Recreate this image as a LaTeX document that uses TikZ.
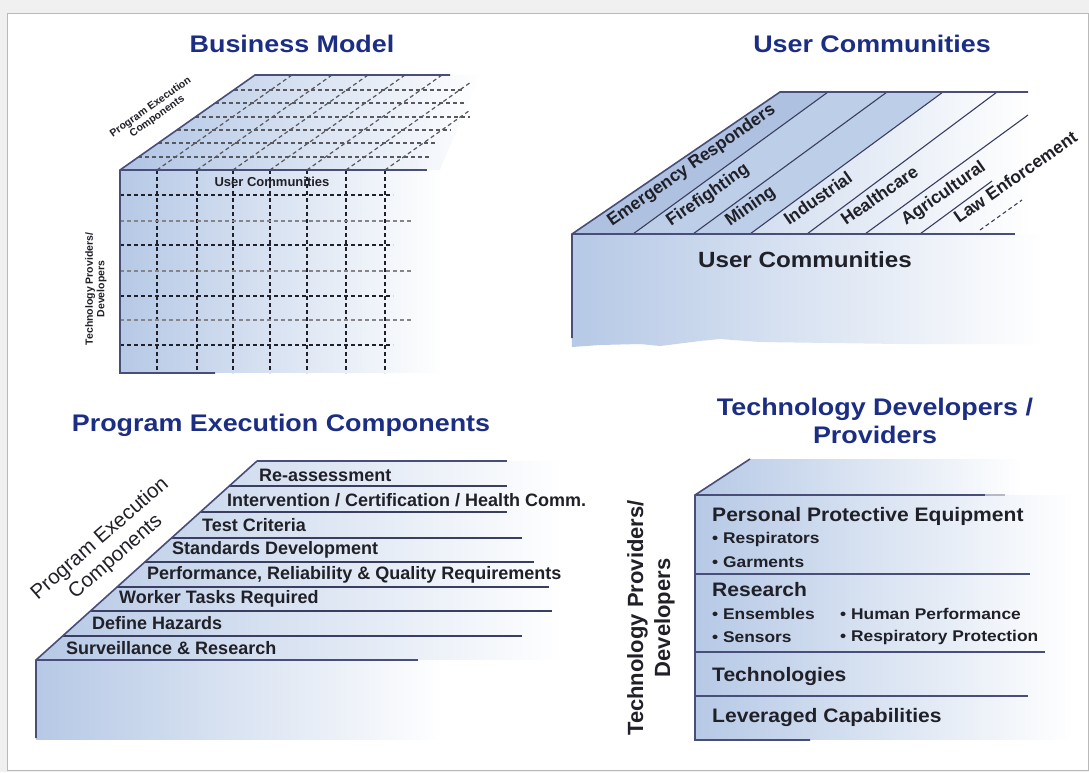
\documentclass[tikz,border=0pt]{standalone}
\usepackage{fontspec}
\setmainfont{Liberation Sans}
\usepackage{xcolor}
\usetikzlibrary{shadings, fadings}
\definecolor{navy}{RGB}{28,46,132}
\definecolor{edge}{RGB}{72,78,120}
\definecolor{face}{RGB}{182,201,230}
\definecolor{ink}{RGB}{32,32,40}

\begin{document}
\begin{tikzpicture}[x=1pt, y=-1pt,
    ttl/.style={font=\bfseries\fontsize{24}{28}\selectfont, text=navy, xscale=1.12, align=center},
    edgeline/.style={draw=edge, line width=1.6pt},
    thinline/.style={draw=edge!80!black, line width=1.1pt},
    grid/.style={draw=ink, line width=1.2pt, dash pattern=on 4pt off 3pt},
    shadeface/.style={fill=#1, path fading=east},
    item/.style={font=\bfseries\fontsize{18}{20}\selectfont, text=ink, anchor=west, inner sep=0pt},
    stripl/.style={font=\bfseries\fontsize{17.5}{19}\selectfont, text=ink, rotate=35, anchor=base west, inner sep=0pt},
    big4/.style={font=\bfseries\fontsize{19.5}{22}\selectfont, text=ink, anchor=west, inner sep=0pt, xscale=1.08},
    small4/.style={font=\bfseries\fontsize{15.5}{18}\selectfont, text=ink, anchor=west, inner sep=0pt, xscale=1.12}]
    \useasboundingbox (0,0) rectangle (1089,772);
    % 背景和外框
    \fill[gray!12] (0,0) rectangle (1089,772);
    \fill[white, draw=gray!55, line width=1pt] (7,13) rectangle (1088,770);

    % 1. Business Model 立方体
    \node (t1) at (292,44) [ttl] {Business Model};
    \fill[shadeface=face] (120,170) rectangle (440,373);
    \fill[shadeface=face!110] (120,170) -- (255,75) -- (480,75) -- (440,170) -- cycle;
    \foreach \x in {157,197,233,270,307,346,385}
        \draw[grid] (\x,170) -- (\x,373);
    \foreach \y in {195,245,296,345}
        \draw[grid] (120,\y) -- (393,\y);
    \foreach \y in {221,271,320}
        \draw[grid, draw=ink!55] (120,\y) -- (413,\y);
    \begin{scope}
        \clip (120,170) -- (255,75) -- (470,75) -- (470,170) -- cycle;
        \foreach \x in {157,197,233,270,307,346,385}
            \draw[grid, draw=ink!75] (\x,170) -- ++(135,-95);
    \end{scope}
    \foreach \y/\e in {90/463,103/465,117/470,130/450,143/435,157/430}
        \draw[grid, draw=ink!75] ({120+(170-\y)/95*135},\y) -- (\e,\y);
    \draw[edgeline] (450,75) -- (255,75) -- (120,170) -- (120,373) -- (215,373);
    \draw[edgeline] (120,170) -- (427,170);
    \node (pec1) at (154,112) [rotate=35, align=center, text=ink, font=\bfseries\fontsize{10.5}{11.5}\selectfont] {Program Execution\\Components};
    \node (uc1) at (272,182) [text=ink, font=\bfseries\fontsize{13}{14}\selectfont] {User Communities};
    \node (tp1) at (96,289) [rotate=90, align=center, text=ink, font=\bfseries\fontsize{10.5}{11.5}\selectfont] {Technology Providers/\\Developers};

    % 2. User Communities 斜面
    \node (t2) at (872,44) [ttl] {User Communities};
    \fill[shadeface=face] (572,234) -- (1040,234) -- (1040,344) -- (900,344)
        -- (760,342) -- (720,339) -- (700,341) -- (660,346) -- (640,344) -- (600,345) -- (572,347) -- cycle;
    \fill[shadeface=face] (572,234) -- (780,92) -- (1028,92) -- (1028,234) -- cycle;
    \fill[face!95!navy] (572,234) -- (780,92) -- (828,92) -- (633,234) -- cycle;
    \fill[face!90] (633,234) -- (828,92) -- (943,92) -- (750,234) -- cycle;
    \draw[thinline] (633,234) -- (828,92);
    \draw[thinline] (693,234) -- (887,92);
    \draw[thinline] (750,234) -- (943,92);
    \draw[thinline] (807,234) -- (997,92);
    \draw[thinline] (865,234) -- (1028,115);
    \draw[thinline] (920,234) -- (992,181);
    \draw[thinline, dash pattern=on 4pt off 3pt] (980,230) -- (1022,200);
    \draw[edgeline] (1028,92) -- (780,92) -- (572,234) -- (572,338);
    \draw[edgeline] (572,234) -- (1015,234);
    \node (er) at (612,227) [stripl] {Emergency Responders};
    \node (ff) at (671,227) [stripl] {Firefighting};
    \node (mi) at (730,227) [stripl] {Mining};
    \node (in) at (789,226) [stripl] {Industrial};
    \node (hc) at (846,226) [stripl] {Healthcare};
    \node (ag) at (906,226) [stripl] {Agricultural};
    \node (le) at (959,224) [stripl] {Law Enforcement};
    \node (uc2) at (805,260) [text=ink, xscale=1.1, font=\bfseries\fontsize{22}{24}\selectfont] {User Communities};

    % 3. Program Execution Components 阶梯
    \node (t3) at (281,425) [ttl] {Program Execution Components};
    \fill[shadeface=face] (36,660) -- (257,461) -- (560,461) -- (560,660) -- cycle;
    \fill[shadeface=face] (36,660) rectangle (440,740);
    \draw[edgeline] (257,461) -- (507,461);
    \foreach \y/\e in {486/507,512/507,538/522,562/534,587/549,611/552,636/522}
        \draw[thinline] ({36+(660-\y)/199*221},\y) -- (\e,\y);
    \draw[edgeline] (257,461) -- (36,660) -- (36,738);
    \draw[edgeline] (36,660) -- (418,660);
    \node (ra) at (259,475) [item] {Re-assessment};
    \node (ic) at (227,500) [item] {Intervention / Certification / Health Comm.};
    \node (tc) at (202,525) [item] {Test Criteria};
    \node (sd) at (172,550) [item] {Standards Development};
    \node (pr) at (147,575) [item] {Performance, Reliability \& Quality Requirements};
    \node (wt) at (119,599) [item] {Worker Tasks Required};
    \node (dh) at (92,623) [item] {Define Hazards};
    \node (sr) at (66,648) [item] {Surveillance \& Research};
    \node (pec3) at (108,548) [rotate=41, align=center, text=ink, font=\fontsize{20.5}{24}\selectfont] {Program Execution\\Components};

    % 4. Technology Developers / Providers 层
    \node (t4) at (875,421) [ttl] {Technology Developers /\\Providers};
    \fill[shadeface=face] (695,495) -- (750,459) -- (1020,459) -- (1020,495) -- cycle;
    \fill[shadeface=face] (695,495) rectangle (1070,740);
    \draw[edgeline] (750,459) -- (695,495) -- (695,740) -- (810,740);
    \draw[edgeline] (695,495) -- (985,495);
    \draw[edgeline, draw=edge!40] (985,495) -- (1005,495);
    \draw[edgeline] (695,574) -- (1030,574);
    \draw[edgeline] (695,652) -- (1045,652);
    \draw[edgeline] (695,696) -- (1028,696);
    \node (ppe) at (712,516) [big4] {Personal Protective Equipment};
    \node (rs) at (712,539) [small4] {• Respirators};
    \node (gm) at (712,562) [small4] {• Garments};
    \node (re) at (712,590) [big4] {Research};
    \node (en) at (712,614) [small4] {• Ensembles};
    \node (hp) at (840,614) [small4] {• Human Performance};
    \node (se) at (712,637) [small4] {• Sensors};
    \node (rp) at (840,637) [small4] {• Respiratory Protection};
    \node (te) at (712,676) [big4] {Technologies};
    \node (lc) at (712,717) [big4] {Leveraged Capabilities};
    \node (tp4) at (651,618) [rotate=90, align=center, text=ink, font=\bfseries\fontsize{22}{27}\selectfont] {Technology Providers/\\Developers};
\end{tikzpicture}
\end{document}
